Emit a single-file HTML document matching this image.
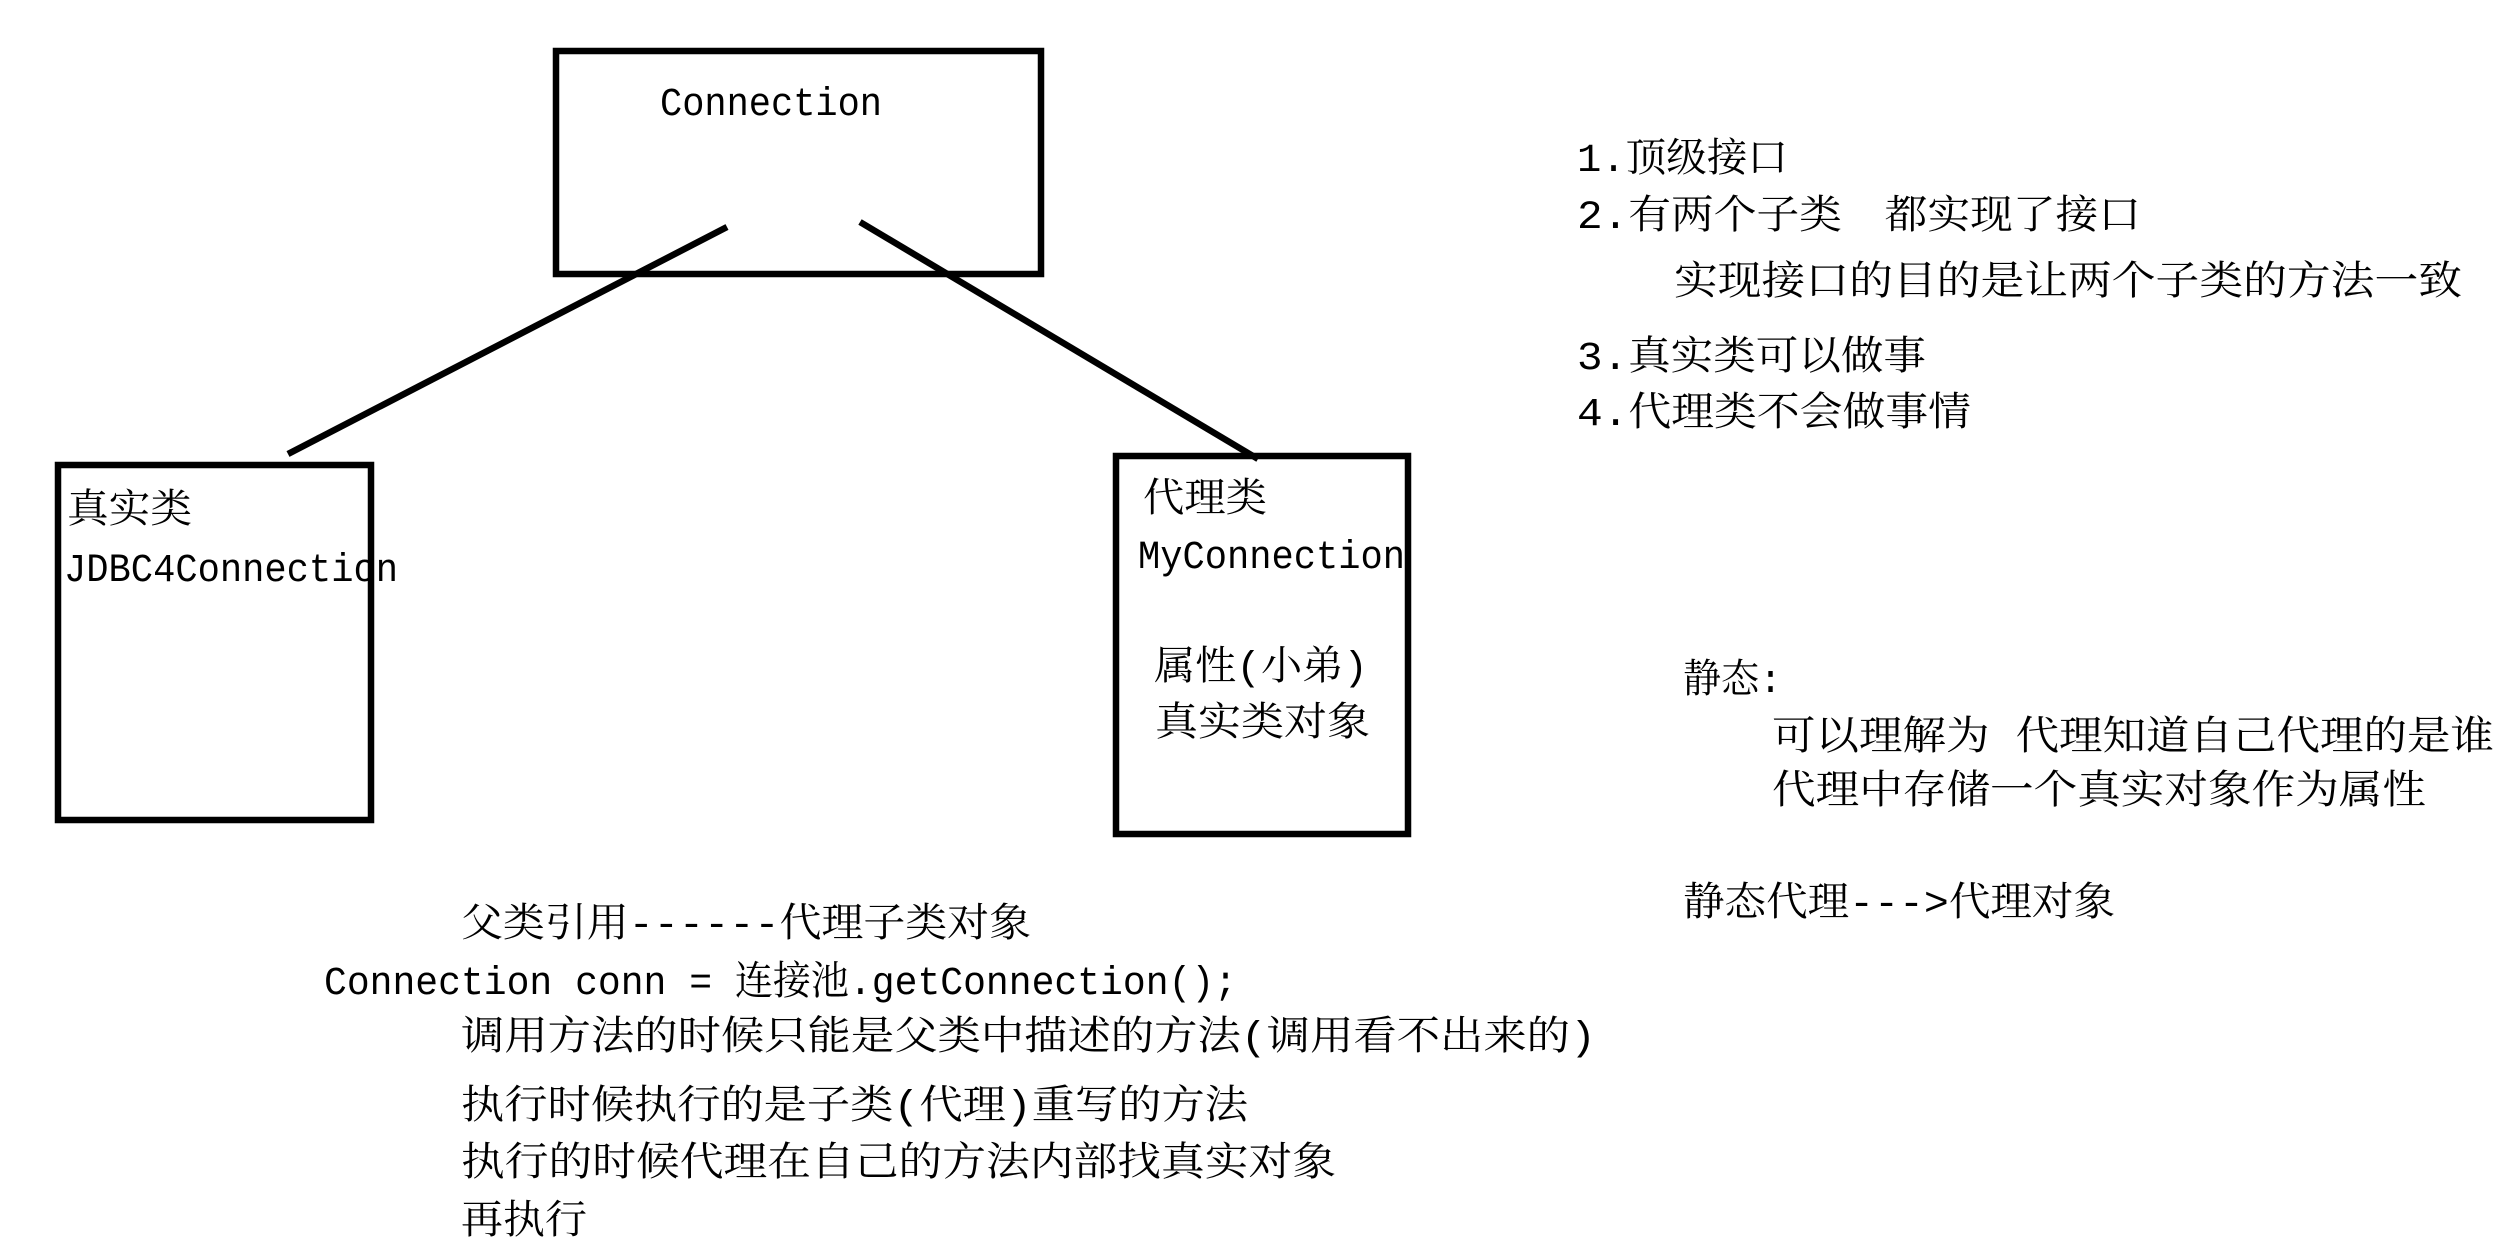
<!DOCTYPE html>
<html><head><meta charset="utf-8"><style>
html,body{margin:0;padding:0;background:#fff;}
svg{display:block;}
text{font-family:"Liberation Mono","Noto Serif CJK SC","Noto Sans CJK SC",serif;font-size:40px;fill:#000;}
</style></head><body>
<svg width="2500" height="1254" viewBox="0 0 2500 1254" xmlns="http://www.w3.org/2000/svg">
<rect x="0" y="0" width="2500" height="1254" fill="#fff"/>
<g fill="none" stroke="#000" stroke-width="6.5">
<rect x="556" y="51" width="485" height="223"/>
<rect x="58" y="465" width="313" height="355"/>
<rect x="1116" y="456" width="292" height="378"/>
<line x1="727" y1="227" x2="288" y2="454"/>
<line x1="860" y1="222" x2="1258" y2="459"/>
</g>
<g>
<text x="660" y="115" textLength="222" lengthAdjust="spacingAndGlyphs">Connection</text>
<text x="67" y="522" textLength="125" lengthAdjust="spacingAndGlyphs">真实类</text>
<text x="64" y="581" textLength="334" lengthAdjust="spacingAndGlyphs">JDBC4Connection</text>
<text x="1143" y="511" textLength="124" lengthAdjust="spacingAndGlyphs">代理类</text>
<text x="1138" y="568" textLength="267" lengthAdjust="spacingAndGlyphs">MyConnection</text>
<text x="1154" y="679" textLength="214" lengthAdjust="spacingAndGlyphs">属性(小弟)</text>
<text x="1155" y="735" textLength="215" lengthAdjust="spacingAndGlyphs">真实类对象</text>

<text x="1577" y="171" textLength="211" lengthAdjust="spacingAndGlyphs">1.顶级接口</text>
<text x="1577" y="228" textLength="564" lengthAdjust="spacingAndGlyphs">2.有两个子类　都实现了接口</text>
<text x="1674" y="294" textLength="788" lengthAdjust="spacingAndGlyphs">实现接口的目的是让两个子类的方法一致</text>
<text x="1577" y="369" textLength="349" lengthAdjust="spacingAndGlyphs">3.真实类可以做事</text>
<text x="1577" y="425" textLength="394" lengthAdjust="spacingAndGlyphs">4.代理类不会做事情</text>
<text x="1683" y="692" textLength="99" lengthAdjust="spacingAndGlyphs">静态:</text>
<text x="1772" y="749" textLength="722" lengthAdjust="spacingAndGlyphs">可以理解为 代理知道自己代理的是谁</text>
<text x="1772" y="803" textLength="654" lengthAdjust="spacingAndGlyphs">代理中存储一个真实对象作为属性</text>
<text x="1683" y="915" textLength="432" lengthAdjust="spacingAndGlyphs">静态代理---&gt;代理对象</text>

<text x="461" y="936" textLength="570" lengthAdjust="spacingAndGlyphs">父类引用------代理子类对象</text>
<text x="324" y="994" textLength="913" lengthAdjust="spacingAndGlyphs">Connection conn = 连接池.getConnection();</text>
<text x="461" y="1049" textLength="1135" lengthAdjust="spacingAndGlyphs">调用方法的时候只能是父类中描述的方法(调用看不出来的)</text>
<text x="461" y="1118" textLength="787" lengthAdjust="spacingAndGlyphs">执行时候执行的是子类(代理)重写的方法</text>
<text x="461" y="1175" textLength="875" lengthAdjust="spacingAndGlyphs">执行的时候代理在自己的方法内部找真实对象</text>
<text x="461" y="1233" textLength="126" lengthAdjust="spacingAndGlyphs">再执行</text>
</g>
</svg>
</body></html>
